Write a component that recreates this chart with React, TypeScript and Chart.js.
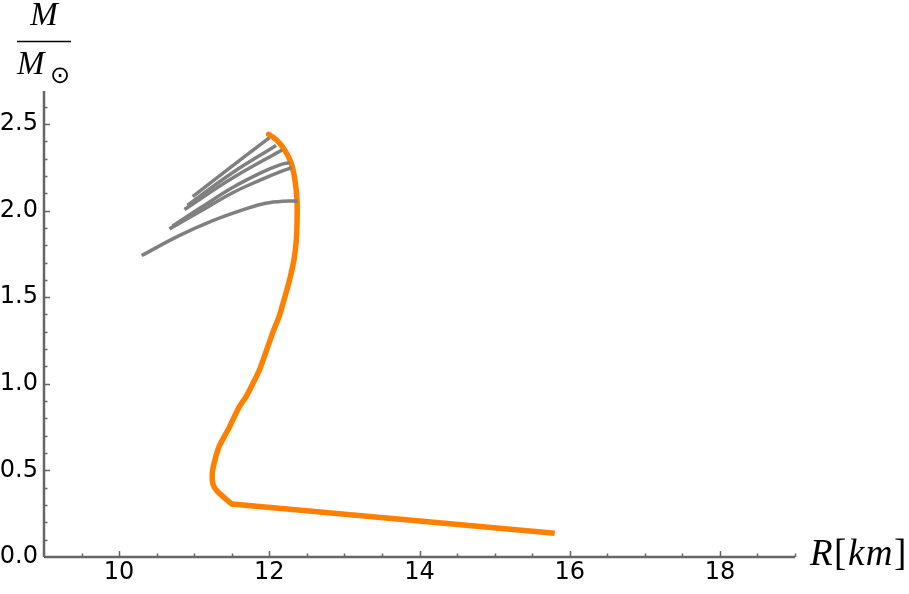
import React, { useEffect, useRef } from 'react';
import { Chart, registerables } from 'chart.js';

Chart.register(...registerables);

// Axis ranges and tick labels
const xRange = [9, 19];
const yRange = [0, 2.69];
const xTickValues = [10, 12, 14, 16, 18];
const yTickValues = [0, 0.5, 1.0, 1.5, 2.0, 2.5];
const xMinorStep = 0.5;
const yMinorStep = 0.1;

// Main (orange) M-R curve: curved part (stable branch) ...
const mainR = [11.99, 12.09, 12.2, 12.29, 12.34, 12.37, 12.37, 12.36, 12.33, 12.27, 12.2, 12.13, 12.05, 11.98, 11.87, 11.78, 11.69, 11.6, 11.47, 11.33, 11.27, 11.24, 11.25, 11.31, 11.5];
const mainM = [2.44, 2.41, 2.353, 2.276, 2.18, 2.054, 1.95, 1.832, 1.72, 1.6, 1.49, 1.387, 1.3, 1.214, 1.081, 1.0, 0.925, 0.867, 0.751, 0.636, 0.55, 0.48, 0.42, 0.378, 0.306];
// ... and its low-mass straight tail
const tailR = [11.5, 15.8];
const tailM = [0.306, 0.137];

// Gray branches
const branch1R = [10.98, 11.47, 12.0];
const branch1M = [2.08, 2.245, 2.42];
const branch2R = [10.91, 11.5, 12.09];
const branch2M = [2.03, 2.215, 2.375];
const branch3R = [10.87, 11.5, 12.17];
const branch3M = [2.006, 2.185, 2.35];
const branch4R = [10.71, 11.1, 11.5, 11.9, 12.15, 12.27];
const branch4M = [1.91, 2.02, 2.13, 2.22, 2.265, 2.276];
const branch5R = [10.67, 11.1, 11.5, 11.9, 12.15, 12.3];
const branch5M = [1.894, 2.0, 2.1, 2.18, 2.225, 2.247];
const branch6R = [10.3, 10.8, 11.24, 11.69, 11.95, 12.18, 12.38];
const branch6M = [1.74, 1.855, 1.94, 2.01, 2.042, 2.054, 2.054];

const branchesR = [branch1R, branch2R, branch3R, branch4R, branch5R, branch6R];
const branchesM = [branch1M, branch2M, branch3M, branch4M, branch5M, branch6M];

const ORANGE = 'rgb(255,127,0)';
const GRAY = 'rgb(128,128,128)';
const AXIS = 'rgb(102,102,102)';

const toPoints = (rs: number[], ms: number[]) => rs.map((r, i) => ({ x: r, y: ms[i] }));

const axesPlugin = {
  id: 'mmaAxes',
  beforeDatasetsDraw(chart: any) {
    const { ctx } = chart;
    const x = chart.scales.x;
    const y = chart.scales.y;
    const x0 = x.getPixelForValue(xRange[0]);
    const x1 = x.getPixelForValue(xRange[1]);
    const y0 = y.getPixelForValue(yRange[0]);
    const y1 = y.getPixelForValue(yRange[1]);
    ctx.save();
    ctx.strokeStyle = AXIS;
    ctx.lineWidth = 2.5;
    ctx.beginPath();
    ctx.moveTo(x0, y0);
    ctx.lineTo(x1, y0);
    ctx.moveTo(x0, y0);
    ctx.lineTo(x0, y1);
    ctx.stroke();
    ctx.lineWidth = 1.5;
    ctx.beginPath();
    const nx = Math.round((xRange[1] - xRange[0]) / xMinorStep);
    for (let i = 1; i <= nx; i++) {
      const v = xRange[0] + i * xMinorStep;
      const major = xTickValues.some((t) => Math.abs(t - v) < 1e-6);
      const px = Math.round(x.getPixelForValue(v)) + 0.5;
      ctx.moveTo(px, y0);
      ctx.lineTo(px, y0 - (major ? 6 : 3.5));
    }
    const ny = Math.floor((yRange[1] - yRange[0]) / yMinorStep + 1e-6);
    for (let i = 1; i <= ny; i++) {
      const v = yRange[0] + i * yMinorStep;
      const major = yTickValues.some((t) => Math.abs(t - v) < 1e-6);
      const py = Math.round(y.getPixelForValue(v)) + 0.5;
      ctx.moveTo(x0, py);
      ctx.lineTo(x0 + (major ? 6 : 3.5), py);
    }
    ctx.stroke();
    ctx.restore();
  },
  afterDraw(chart: any) {
    const { ctx } = chart;
    ctx.save();
    ctx.fillStyle = '#000';
    ctx.textBaseline = 'alphabetic';
    // x-axis label R[km]
    const serifI = 'italic 37px "Liberation Serif"';
    const serifR = '37px "Liberation Serif"';
    let cx = 810;
    const by = 565;
    const parts: [string, string][] = [['R', serifI], ['[', serifR], ['k', serifI], ['m', serifI], [']', serifR]];
    for (const [t, f] of parts) {
      ctx.font = f;
      ctx.fillText(t, cx, by);
      cx += ctx.measureText(t).width + 1.5;
    }
    // y-axis label M / M_sun
    ctx.font = 'italic 33px "Liberation Serif"';
    ctx.textAlign = 'center';
    ctx.fillText('M', 44, 25);
    ctx.textAlign = 'left';
    ctx.fillText('M', 17, 74);
    ctx.font = '24px "DejaVu Sans"';
    ctx.fillText('⊙', 50, 83);
    ctx.strokeStyle = '#000';
    ctx.lineWidth = 1.5;
    ctx.beginPath();
    ctx.moveTo(17, 41.5);
    ctx.lineTo(71, 41.5);
    ctx.stroke();
    ctx.restore();
  },
};

export default function App() {
  const ref = useRef<HTMLCanvasElement | null>(null);
  useEffect(() => {
    if (!ref.current) return;
    const datasets: any[] = branchesR.map((rs, i) => ({
      data: toPoints(rs, branchesM[i]),
      borderColor: GRAY,
      borderWidth: 3.5,
      showLine: true,
      tension: 0.4,
      pointRadius: 0,
      borderCapStyle: 'butt',
      borderJoinStyle: 'round',
    }));
    datasets.push({
      data: toPoints(mainR, mainM),
      borderColor: ORANGE,
      borderWidth: 5.5,
      showLine: true,
      tension: 0.25,
      pointRadius: 0,
      borderCapStyle: 'round',
      borderJoinStyle: 'round',
    });
    datasets.push({
      data: toPoints(tailR, tailM),
      borderColor: ORANGE,
      borderWidth: 5.5,
      showLine: true,
      tension: 0,
      pointRadius: 0,
      borderCapStyle: 'butt',
      borderJoinStyle: 'round',
    });
    const chart = new Chart(ref.current, {
      type: 'scatter',
      data: { datasets },
      options: {
        animation: false,
        responsive: false,
        devicePixelRatio: 1,
        layout: { padding: { left: 0, right: 114, top: 91, bottom: 0 } },
        plugins: { legend: { display: false }, tooltip: { enabled: false } },
        elements: { point: { radius: 0 } },
        scales: {
          x: {
            type: 'linear',
            min: xRange[0],
            max: xRange[1],
            grid: { display: false, drawTicks: false },
            border: { display: false },
            afterBuildTicks: (s: any) => {
              s.ticks = xTickValues.map((v) => ({ value: v }));
            },
            afterFit: (s: any) => {
              s.height = 37;
            },
            ticks: {
              font: { family: 'DejaVu Sans', size: 24 },
              color: '#000',
              padding: 1,
              maxRotation: 0,
              autoSkip: false,
              callback: (v: any) => String(v),
            },
          },
          y: {
            type: 'linear',
            min: yRange[0],
            max: yRange[1],
            grid: { display: false, drawTicks: false },
            border: { display: false },
            afterBuildTicks: (s: any) => {
              s.ticks = yTickValues.map((v) => ({ value: v }));
            },
            afterFit: (s: any) => {
              s.width = 44;
            },
            ticks: {
              font: { family: 'DejaVu Sans', size: 24 },
              color: '#000',
              padding: 6,
              autoSkip: false,
              callback: (v: any) => Number(v).toFixed(1),
            },
          },
        },
      },
      plugins: [axesPlugin],
    });
    return () => chart.destroy();
  }, []);
  return (
    <div style={{ position: 'fixed', left: 0, top: 0, width: 909, height: 594, background: '#fff' }}>
      <canvas ref={ref} width={909} height={594} style={{ display: 'block' }} />
    </div>
  );
}
